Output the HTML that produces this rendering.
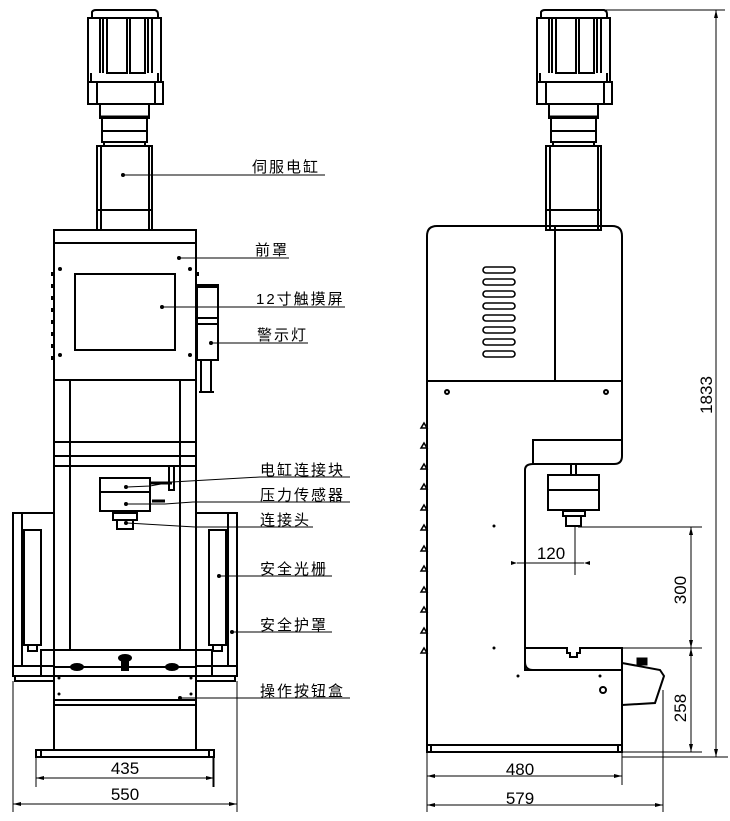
<!DOCTYPE html>
<html><head><meta charset="utf-8"><style>
html,body{margin:0;padding:0;background:#fff}
svg{display:block}
text{font-family:"Liberation Sans","Noto Sans CJK SC",sans-serif;fill:#000}
.l{font-size:15px;letter-spacing:2px}
.d{font-size:17px}
</style></head><body>
<svg width="730" height="821" viewBox="0 0 730 821" xmlns="http://www.w3.org/2000/svg">
<defs>
<g id="motor" fill="none" stroke="#000" stroke-width="2">
  <path d="M92,18 L92,12 Q93,10 96,10 L155,10 Q158,11 158,14 L158,18"/>
  <rect x="88" y="18" width="73" height="64"/>
  <path d="M100,18V73M103,18V73M107,18V73H127V18M130,18V73H145V18M148,18V73M152,18V73"/>
  <path d="M91,73V82M158,73V82"/>
  <rect x="88" y="82" width="75" height="22"/>
  <path d="M97,82V104M155,82V104"/>
  <rect x="100" y="104" width="49" height="14"/>
  <rect x="102" y="118" width="45" height="24"/>
  <path d="M101,117H148" stroke-width="3"/>
  <path d="M102,131H147"/>
  <rect x="104" y="142" width="41" height="4"/>
  <rect x="97" y="146" width="55" height="84"/>
  <path d="M101,146V230M149,146V230M97,210H152"/>
</g>
</defs>
<g fill="none" stroke="#000" stroke-width="2">
<use href="#motor"/>
<!-- front cover -->
<rect x="54" y="230" width="142" height="150"/>
<path d="M54,243H196"/>
<rect x="75" y="274" width="100" height="76"/>
<path d="M52,272v4M52,284v4M52,296v4M52,308v4M52,320v4M52,332v4M52,344v4M52,356v4M198,272v4"/>
<!-- warning light -->
<rect x="197" y="285" width="21" height="75"/>
<path d="M197,287H218M197,318H218M197,324H218" />
<path d="M201,360V392M211,360V392M199,392H214"/>
<!-- columns -->
<path d="M54,380V650M70,380V650M180,380V650M196,380V650"/>
<rect x="54" y="442" width="142" height="24"/>
<path d="M54,456H196"/>
<path d="M105,466H145"/>
<rect x="169" y="466" width="5" height="24"/>
<!-- press head -->
<rect x="100" y="478" width="50" height="14"/>
<rect x="100" y="492" width="50" height="19"/>
<rect x="113" y="513" width="24" height="7"/>
<rect x="117" y="520" width="16" height="9"/>
<path d="M150,483H172M152,501H165" stroke-width="3"/>
<!-- guards -->
<rect x="13" y="513" width="41" height="163"/>
<path d="M22,513V666M13,666H54"/>
<rect x="196" y="513" width="41" height="163"/>
<path d="M228,513V666M196,666H237"/>
<rect x="24" y="530" width="17" height="115"/>
<rect x="209" y="530" width="17" height="115"/>
<path d="M28,645h9v6h-9zM213,645h9v6h-9z"/>
<rect x="15" y="676" width="39" height="5"/>
<rect x="196" y="676" width="39" height="5"/>
<!-- bottom boxes -->
<rect x="41" y="650" width="171" height="26"/>
<rect x="54" y="667" width="142" height="38"/>
<path d="M54,676H196M54,700H196"/>
<path d="M54,705V750M196,705V750"/>
<rect x="36" y="750" width="178" height="7"/>
<path d="M41,750v7M209,750v7"/>
<!-- dims left -->
<g stroke-width="1">
<path d="M36,757V787M214,757V787M36,778H214M13,681V812M237,681V812M13,804H237"/>
<path d="M213,757V787"/>
</g>
<!-- leaders left -->
<g stroke-width="1">
<path d="M123,175H325M179,258H289M162,307H345M211,343H308"/>
<path d="M126,487L150,486L172,482L260,477H350M126,504H165L193,502H350M126,523L195,527H313"/>
<path d="M219,576H332M232,632H332M180,698H350"/>
</g>

<!-- right view -->
<use href="#motor" transform="translate(449,0)"/>
<path d="M437,226H612Q622,226 622,236V381H427V236Q427,226 437,226Z"/>
<path d="M555,226V381"/>
<path d="M427,381V752H622V670H525V470Q525,464 533,464V440H622V381"/>
<path d="M533,464H614Q622,464 622,456V440"/>
<path d="M525,648V662Q525,670 533,670M525,648H567V653H570V657H577V653H580V648H622V670"/>
<rect x="548" y="475" width="51" height="35"/>
<path d="M548,490H599"/>
<rect x="571" y="464" width="5" height="11"/>
<rect x="563" y="511" width="22" height="5"/>
<rect x="566" y="516" width="15" height="10"/>
<path d="M427,745H622M431,745V752M618,745V752"/>
<path d="M622,663L660,670L664,676L655,703L622,705"/>
<rect x="637" y="658" width="10" height="7" fill="#000" stroke-width="1"/>
<circle cx="603" cy="690" r="3"/>
<circle cx="447" cy="392" r="2"/>
<circle cx="606" cy="392" r="2"/>
<g stroke-width="1.6">
<rect x="483" y="267" width="32" height="6" rx="3"/>
<rect x="483" y="279" width="32" height="6" rx="3"/>
<rect x="483" y="291" width="32" height="6" rx="3"/>
<rect x="483" y="303" width="32" height="6" rx="3"/>
<rect x="483" y="315" width="32" height="6" rx="3"/>
<rect x="483" y="327" width="32" height="6" rx="3"/>
<rect x="483" y="339" width="32" height="6" rx="3"/>
<rect x="483" y="351" width="32" height="6" rx="3"/>
</g>
<g stroke-width="1.5">
<path d="M427,428h-6l3,-5zM427,448h-6l3,-5zM427,469h-6l3,-5zM427,489h-6l3,-5zM427,510h-6l3,-5zM427,530h-6l3,-5zM427,551h-6l3,-5zM427,571h-6l3,-5zM427,592h-6l3,-5zM427,612h-6l3,-5zM427,633h-6l3,-5zM427,653h-6l3,-5z"/>
</g>
<!-- dims right -->
<g stroke-width="1">
<path d="M604,10H725M716,10V757M622,757H728"/>
<path d="M578,527H702M622,648H702M691,527V752M622,752H702"/>
<path d="M517,563H584M575,527V575"/>
<path d="M427,752V812M622,752V785M427,776H622M663,690V812M427,805H663"/>
</g>
</g>
<g fill="#000">
<circle cx="123" cy="175" r="2"/><circle cx="179" cy="258" r="2"/><circle cx="162" cy="307" r="2"/><circle cx="211" cy="343" r="2"/>
<circle cx="60" cy="269" r="2"/><circle cx="190" cy="269" r="2"/><circle cx="60" cy="355" r="2"/><circle cx="190" cy="355" r="2"/>
<circle cx="126" cy="487" r="2"/><circle cx="126" cy="504" r="2"/><circle cx="126" cy="523" r="2"/><circle cx="219" cy="576" r="2"/><circle cx="232" cy="632" r="2"/><circle cx="180" cy="698" r="2"/>
<circle cx="59" cy="678" r="1.5"/><circle cx="191" cy="678" r="1.5"/><circle cx="59" cy="694" r="1.5"/><circle cx="191" cy="694" r="1.5"/>
<ellipse cx="77" cy="667" rx="7" ry="4"/><ellipse cx="172" cy="667" rx="7" ry="4"/><ellipse cx="125" cy="658" rx="7" ry="4"/><rect x="121" y="661" width="8" height="10"/>
<circle cx="494" cy="526" r="1.5"/><circle cx="494" cy="648" r="1.5"/><circle cx="518" cy="676" r="1.5"/><circle cx="600" cy="676" r="1.5"/>
<path d="M716,10l-2,8h4zM716,757l-2,-8h4zM691,527l-2,8h4zM691,648l-2,-8h4zM691,648l-2,8h4zM691,752l-2,-8h4zM36,778l8,-2v4zM214,778l-8,-2v4zM13,804l8,-2v4zM237,804l-8,-2v4zM427,776l8,-2v4zM622,776l-8,-2v4zM427,805l8,-2v4zM663,805l-8,-2v4zM517,563l-6,-2v4zM584,563l6,-2v4z"/>
</g>
<text class="l" x="252" y="172">伺服电缸</text>
<text class="l" x="255" y="255">前罩</text>
<text class="l" x="256" y="304">12寸触摸屏</text>
<text class="l" x="257" y="340">警示灯</text>
<text class="l" x="260" y="475">电缸连接块</text>
<text class="l" x="260" y="500">压力传感器</text>
<text class="l" x="260" y="525">连接头</text>
<text class="l" x="260" y="574">安全光栅</text>
<text class="l" x="260" y="630">安全护罩</text>
<text class="l" x="260" y="696">操作按钮盒</text>
<text class="d" x="125" y="774" text-anchor="middle">435</text>
<text class="d" x="125" y="800" text-anchor="middle">550</text>
<text class="d" x="520" y="775" text-anchor="middle">480</text>
<text class="d" x="520" y="804" text-anchor="middle">579</text>
<text class="d" x="551" y="559" text-anchor="middle">120</text>
<text class="d" transform="translate(712,395) rotate(-90)" text-anchor="middle">1833</text>
<text class="d" transform="translate(686,590) rotate(-90)" text-anchor="middle">300</text>
<text class="d" transform="translate(686,708) rotate(-90)" text-anchor="middle">258</text>
</svg>
</body></html>
